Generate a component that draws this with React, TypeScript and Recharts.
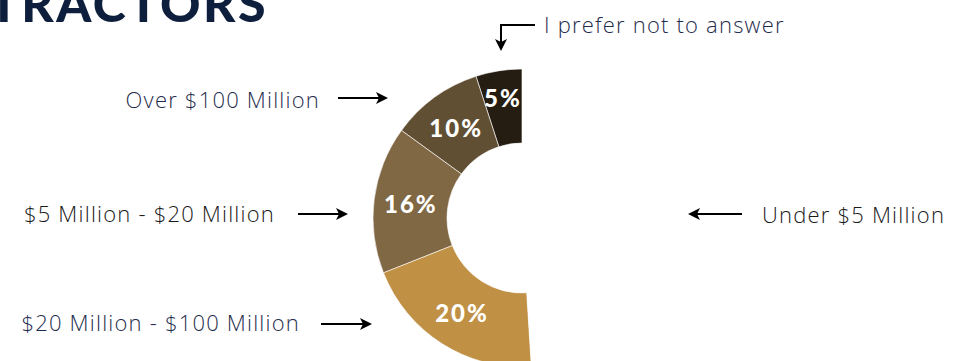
import { PieChart, Pie, Cell } from "recharts";

// revenue bands, drawn counter-clockwise from 12 o'clock
const categorias = [
  "I prefer not to answer",
  "Over $100 Million",
  "$5 Million - $20 Million",
  "$20 Million - $100 Million",
  "Under $5 Million",
];
const percentuais = [5, 10, 16, 20, 49];
const cores = ["#251c12", "#614f34", "#806845", "#c09145", "#ffffff"];

const dados = categorias.map((nome, i) => ({ nome, valor: percentuais[i] }));

const CX = 522;
const CY = 218;
const RAD = Math.PI / 180;

// callout placement (layout only)
const callouts = [
  { x: 544, y: 33, anchor: "start", cor: "#1f2d4d" },
  { x: 320, y: 108, anchor: "end", cor: "#1f2d4d" },
  { x: 275, y: 222, anchor: "end", cor: "#1a1a1a" },
  { x: 300, y: 331, anchor: "end", cor: "#1f2d4d" },
  { x: 762, y: 223, anchor: "start", cor: "#1a1a1a" },
];

const arrows = [
  { d: "M535 25 H501 V44", hx: 501, hy: 51, dir: "down" },
  { d: "M338 98 H380", hx: 388, hy: 98, dir: "right" },
  { d: "M298 214 H340", hx: 348, hy: 214, dir: "right" },
  { d: "M321 324 H364", hx: 372, hy: 324, dir: "right" },
  { d: "M742 214 H696", hx: 688, hy: 214, dir: "left" },
];

function head(a: { hx: number; hy: number; dir: string }) {
  const { hx, hy, dir } = a;
  if (dir === "right") return `M${hx} ${hy} L${hx - 12} ${hy - 6} L${hx - 9} ${hy} L${hx - 12} ${hy + 6} Z`;
  if (dir === "left") return `M${hx} ${hy} L${hx + 12} ${hy - 6} L${hx + 9} ${hy} L${hx + 12} ${hy + 6} Z`;
  return `M${hx} ${hy} L${hx - 6} ${hy - 12} L${hx} ${hy - 9} L${hx + 6} ${hy - 12} Z`;
}

const renderLabel = (props: any) => {
  const { cx, cy, midAngle, innerRadius, outerRadius, value, index } = props;
  if (index === dados.length - 1) return null;
  const r = (innerRadius + outerRadius) / 2 + (index === 0 ? 10 : 0);
  const x = cx + r * Math.cos(-midAngle * RAD);
  const y = cy + r * Math.sin(-midAngle * RAD);
  return (
    <g>
      <defs>
        <clipPath id={`corte-${index}`}>
          <rect x={0} y={0} width={cx + 2} height={400} />
        </clipPath>
      </defs>
      <text
        x={x}
        y={y}
        fill="#ffffff"
        textAnchor="middle"
        dominantBaseline="central"
        clipPath={`url(#corte-${index})`}
        style={{ fontFamily: "Lato", fontWeight: 900, fontSize: 24, letterSpacing: 2 }}
      >
        {`${value}%`}
      </text>
    </g>
  );
};

export default function App() {
  return (
    <div style={{ position: "absolute", left: 0, top: 0, width: 968, height: 361, background: "#fff", overflow: "hidden" }}>
      <PieChart width={968} height={361} margin={{ top: 0, right: 0, bottom: 0, left: 0 }}>
        <Pie
          data={dados}
          dataKey="valor"
          nameKey="nome"
          cx={CX}
          cy={CY}
          innerRadius={75}
          outerRadius={149}
          startAngle={90}
          endAngle={450}
          stroke="#ffffff"
          strokeWidth={0.6}
          label={renderLabel}
          labelLine={false}
          isAnimationActive={false}
        >
          {dados.map((d, i) => (
            <Cell key={d.nome} fill={cores[i]} stroke={i === dados.length - 1 ? "none" : "#ffffff"} />
          ))}
        </Pie>
      </PieChart>
      <svg width={968} height={361} style={{ position: "absolute", left: 0, top: 0 }}>
        <text
          x={268}
          y={22}
          textAnchor="end"
          fill="#0e1f3d"
          style={{ fontFamily: "Lato", fontWeight: 900, fontSize: 50, letterSpacing: 2.5 }}
        >
          TRACTORS
        </text>
        {categorias.map((nome, i) => (
          <text
            key={nome}
            x={callouts[i].x}
            y={callouts[i].y}
            textAnchor={callouts[i].anchor as any}
            fill={callouts[i].cor}
            style={{ fontFamily: "Open Sans", fontWeight: 300, fontSize: 22, letterSpacing: 1.2 }}
          >
            {nome}
          </text>
        ))}
        {arrows.map((a, i) => (
          <g key={i}>
            <path d={a.d} fill="none" stroke="#000" strokeWidth={2} />
            <path d={head(a)} fill="#000" />
          </g>
        ))}
      </svg>
    </div>
  );
}
